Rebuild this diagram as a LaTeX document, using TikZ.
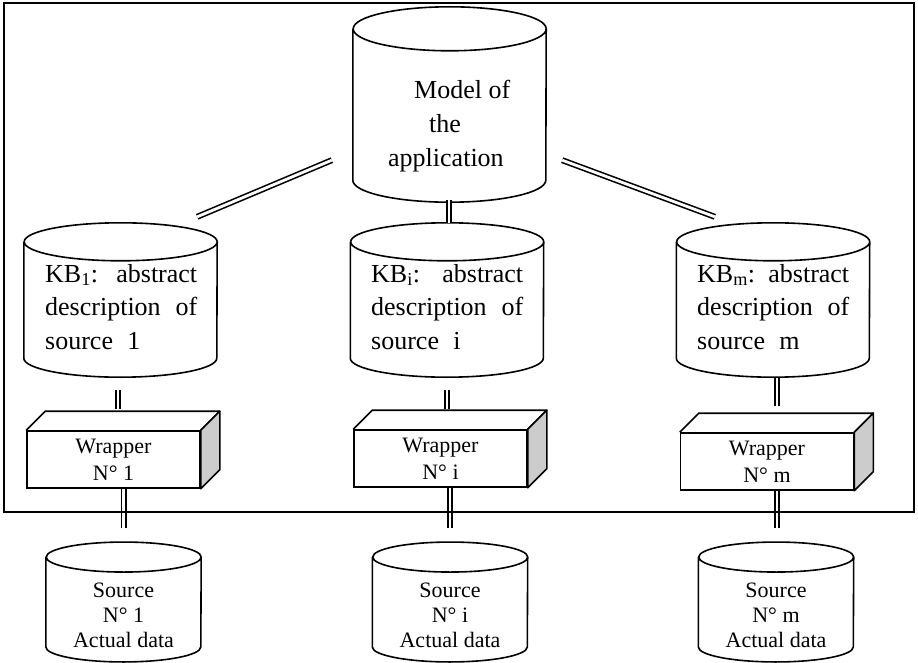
\documentclass[tikz,border=0pt]{standalone}
\usepackage{fontspec}
\setmainfont{Liberation Serif}
\usetikzlibrary{calc}

% justified three-line description inside a knowledge-base drum
\newcommand\kbtext[2]{\parbox[t]{152pt}{\fontsize{26pt}{33.5pt}\selectfont
  \makebox[152pt][s]{KB\textsubscript{#1}: abstract}\par
  \makebox[152pt][s]{description of}\par
  source\hspace{0.55em}#2}}
% three centred lines inside a source drum
\newcommand\srctext[1]{{\fontsize{22pt}{25pt}\selectfont
  \begin{tabular}[t]{@{}c@{}}Source\\N° #1\\Actual data\end{tabular}}}

\tikzset{
  outline/.style={line width=1.6pt},
  link/.style={double, double distance=2.8pt, line width=1.6pt},
  body/.style={draw=none, rectangle, inner sep=0pt},
  txt/.style={inner sep=0pt},
  wrapbox/.style={draw, line width=1.6pt, rectangle, minimum width=173pt,
    minimum height=57pt, inner sep=0pt, align=center,
    font=\fontsize{22pt}{27pt}\selectfont},
}

\begin{document}
\begin{tikzpicture}[x=1pt,y=-1pt]
\useasboundingbox (0,0) rectangle (918,663);

% drum bodies (north = centre of top ellipse, south = centre of bottom ellipse)
\node[body, minimum width=193pt, minimum height=151pt] (model) at (449.5,104.5) {};
\node[body, minimum width=193pt, minimum height=116pt] (kb1) at (120.5,300) {};
\node[body, minimum width=193pt, minimum height=116pt] (kb2) at (447,300) {};
\node[body, minimum width=193pt, minimum height=116pt] (kb3) at (773,300) {};
\node[body, minimum width=155pt, minimum height=89.5pt] (src1) at (123.5,602) {};
\node[body, minimum width=155pt, minimum height=89.5pt] (src2) at (450,602) {};
\node[body, minimum width=155pt, minimum height=89.5pt] (src3) at (776,602) {};

% drum outlines
\foreach \c/\w/\r in {model/96.5/22, kb1/96.5/19, kb2/96.5/19, kb3/96.5/19,
                      src1/77.5/15, src2/77.5/15, src3/77.5/15}{
  \draw[outline] (\c.north west) -- (\c.south west)
    arc[start angle=180, end angle=360, x radius=\w pt, y radius=\r pt]
    -- (\c.north east)
    arc[start angle=0, end angle=360, x radius=\w pt, y radius=\r pt];
}

% drum texts
\node[txt, anchor=base west] (modelt) at (388,99)
  {\parbox[t]{130pt}{\fontsize{26pt}{34pt}\selectfont
   \hspace*{26pt}Model of\par\hspace*{41pt}the\par application}};
\node[txt, anchor=base west] (kb1t) at (45,282) {\kbtext{1}{1}};
\node[txt, anchor=base west] (kb2t) at (371,282) {\kbtext{i}{i}};
\node[txt, anchor=base west] (kb3t) at (697,282) {\kbtext{m}{m}};
\node[txt, anchor=base] (src1t) at (123.5,597) {\srctext{1}};
\node[txt, anchor=base] (src2t) at (450,597) {\srctext{i}};
\node[txt, anchor=base] (src3t) at (776,597) {\srctext{m}};

% wrappers: front face with text, then top and shaded side
\node[wrapbox] (w1) at (113.5,459.5) {Wrapper\\N° 1};
\node[wrapbox] (w2) at (440.5,458.5) {Wrapper\\N° i};
\node[wrapbox] (w3) at (767,461.5) {Wrapper\\N° m};
\foreach \c in {w1,w2,w3}{
  \draw[outline, line join=round] (\c.north west) -- ++(19,-19)
    -- ([shift={(19,-19)}]\c.north east) -- (\c.north east);
  \draw[outline, line join=round, fill=black!20] (\c.north east) -- ++(19,-19)
    -- ([shift={(19,-19)}]\c.south east) -- (\c.south east) -- cycle;
}

% double-line links
\draw[link] ([shift={(-21,-20)}]model.south west) -- ([shift={(-20,-25)}]kb1.north east);
\draw[link] ([shift={(16,-20)}]model.south east) -- ([shift={(38.5,-25)}]kb3.north west);
\draw[link] ([shift={(-0.5,20)}]model.south) -- ([shift={(2,-19)}]kb2.north);
\draw[link] ([shift={(-2.5,32)}]kb1.south) -- ([shift={(4.5,-21)}]w1.north);
\draw[link] ([shift={(0,32)}]kb2.south) -- ([shift={(6.5,-20)}]w2.north);
\draw[link] ([shift={(4,20)}]kb3.south) -- ([shift={(10,-26)}]w3.north);
\draw[link] ([shift={(10,0)}]w1.south) -- ([shift={(0,-29.5)}]src1.north);
\draw[link] ([shift={(9.5,0)}]w2.south) -- ([shift={(0,-29.5)}]src2.north);
\draw[link] ([shift={(10,0)}]w3.south) -- ([shift={(1,-29.5)}]src3.north);

% enclosing frame
\draw[line width=2.2pt] (4,3) rectangle (914,512);
\end{tikzpicture}
\end{document}
